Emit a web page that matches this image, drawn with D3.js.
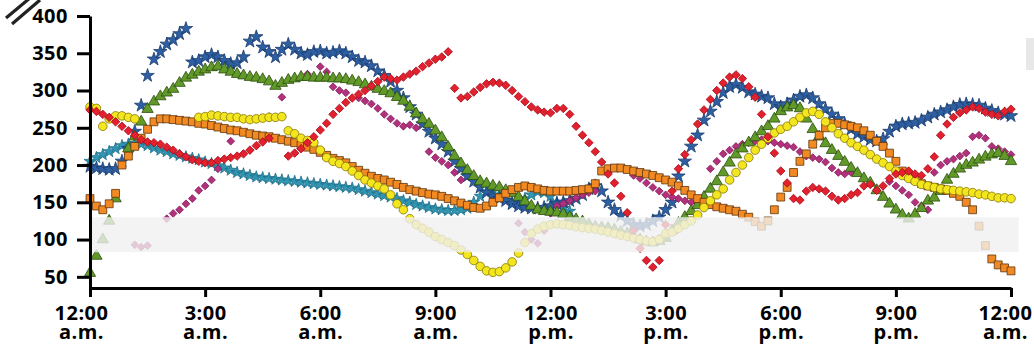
<!DOCTYPE html>
<html>
<head>
<meta charset="utf-8">
<script src="https://cdn.jsdelivr.net/npm/d3@7"></script>
<style>
  body { margin: 0; background: #fff; }
  svg { display: block; }
  .axis text { font-family: "Open Sans", sans-serif; font-weight: 700; font-size: 20px; fill: #000; letter-spacing: 0.5px; }
</style>
</head>
<body>
<svg id="chart" width="1034" height="346"></svg>
<script>
// readings every 10 minutes from 12:00 a.m. (index / 6 = hour of day)
const yTicks = [50, 100, 150, 200, 250, 300, 350, 400];
const xTicks = [0, 3, 6, 9, 12, 15, 18, 21, 24];
const xTickLabels = [["12:00", "a.m."], ["3:00", "a.m."], ["6:00", "a.m."], ["9:00", "a.m."],
  ["12:00", "p.m."], ["3:00", "p.m."], ["6:00", "p.m."], ["9:00", "p.m."], ["12:00", "a.m."]];
const targetRange = [83, 130];

const blue = [198,196,195,194,195,205,222,245,280,320,342,352,362,368,376,383,
  338,340,345,348,345,340,336,337,345,366,372,358,352,345,355,362,355,350,348,352,353,350,351,353,
  350,345,340,338,333,326,320,312,300,290,278,268,255,245,236,228,218,205,195,185,
  178,170,163,158,155,152,148,145,143,142,142,143,145,148,150,152,155,160,168,172,
  165,150,140,132,125,120,118,120,125,130,140,150,185,205,225,240,260,272,285,297,
  305,308,304,298,295,292,290,282,278,282,287,292,294,290,282,275,268,262,255,248,
  242,238,234,232,235,245,252,255,256,257,260,264,268,271,274,278,281,282,281,280,
  276,273,270,268,266];

const red = [274,272,268,264,258,252,246,240,234,231,230,228,224,220,215,211,207,205,203,203,
  206,208,210,212,215,220,226,231,236,null,null,212,216,222,230,238,247,256,268,276,
  284,290,295,300,306,312,318,316,314,318,322,326,332,337,342,345,352,303,290,292,
  298,304,309,311,310,307,300,292,285,278,274,271,270,276,276,268,252,240,230,218,
  204,188,176,158,136,112,88,72,63,72,120,165,195,214,234,255,274,288,300,310,
  318,321,316,305,291,268,238,216,192,176,155,153,165,170,168,165,158,153,155,160,
  163,172,174,166,172,182,188,190,192,188,186,195,211,240,255,264,270,274,278,276,
  271,268,266,272,275];

const green = [55,78,100,125,155,null,222,238,258,275,285,292,297,302,310,317,321,325,328,331,
  332,328,325,322,320,318,317,315,312,306,310,314,316,318,318,317,317,317,316,316,
  315,313,311,308,305,302,299,296,291,286,278,269,261,255,246,237,224,212,202,193,
  185,178,175,172,170,166,162,157,151,145,140,138,137,136,134,130,127,124,120,117,
  116,115,113,110,108,104,100,97,96,98,102,112,122,130,138,146,157,168,178,190,
  203,214,222,230,237,245,252,262,272,277,280,276,262,248,238,229,220,212,204,196,
  189,182,176,166,157,148,140,133,128,134,142,152,156,165,180,188,195,200,203,207,
  211,214,216,212,205];

const magenta = [null,null,null,null,null,null,null,93,90,92,null,null,128,135,140,148,155,166,172,180,
  195,null,232,null,null,null,null,null,265,null,291,null,null,null,322,null,332,325,305,300,
  297,null,290,286,282,276,268,262,256,252,254,250,null,218,210,205,200,190,180,null,
  null,null,null,null,null,null,null,122,110,100,95,112,135,145,148,152,156,160,163,165,
  null,null,null,null,null,186,182,176,170,165,160,157,155,152,150,148,null,195,205,215,
  220,225,228,230,232,234,232,230,228,226,224,218,212,210,208,204,196,190,188,190,
  null,null,null,null,null,178,172,166,160,150,145,140,190,200,205,208,212,216,238,240,
  236,225,222,218,214];

const orange = [155,145,140,148,162,200,212,225,236,248,258,262,262,261,260,259,258,256,255,253,
  251,249,247,246,244,242,240,239,238,236,234,232,230,227,224,221,217,213,209,206,
  203,198,193,189,185,182,180,177,174,170,167,165,163,161,160,158,155,152,149,146,
  143,142,145,150,156,162,167,170,172,170,168,166,165,165,165,165,166,167,168,175,
  192,195,196,196,194,192,190,188,186,183,180,177,172,166,160,155,150,147,144,142,
  140,138,134,130,124,118,125,140,157,170,190,205,215,228,240,250,256,256,254,252,
  250,246,240,232,225,216,205,192,185,180,175,172,170,168,166,162,158,150,140,118,
  92,74,66,62,58];

const yellow = [278,276,252,262,266,266,264,262,null,null,null,null,null,null,null,null,null,264,265,267,
  266,265,264,264,262,261,262,263,264,264,265,246,242,236,233,230,220,210,205,202,
  198,192,186,180,176,172,168,160,148,140,128,120,115,110,104,100,96,92,86,80,
  72,64,58,56,57,62,70,82,96,108,114,118,120,121,120,119,117,116,115,114,
  112,110,108,106,104,102,100,98,97,100,108,110,115,120,125,133,143,152,160,168,
  180,190,200,210,220,228,236,243,248,252,258,264,270,272,268,258,250,242,236,230,
  225,220,214,208,203,198,192,186,182,178,174,172,170,168,167,166,165,164,163,161,
  160,158,156,156,155];

const teal = [205,210,214,218,222,226,228,229,228,226,223,220,218,215,213,211,209,207,204,202,
  199,196,193,190,188,186,184,183,182,181,180,179,178,177,176,175,174,173,172,171,
  170,169,167,165,163,161,159,157,155,152,150,147,145,143,141,140,139,139,140,142,
  150,158,164,165,160,153,148,150,155,160,164,163,158,150,142,138];

const svg = d3.select("#chart");

const x = d3.scaleLinear().domain([0, 24]).range([90, 1011]);
const y = d3.scaleLinear().domain([35, 400]).range([288, 16]);

// draw order matters: later series sit on top
const series = [
  { data: teal,    type: d3.symbolStar,     size: 44, fill: "#2f97b3", stroke: "#1f6f88", rot: 0 },
  { data: blue,    type: d3.symbolStar,     size: 56, fill: "#2d5fa2", stroke: "#1b3c6e", rot: 0 },
  { data: magenta, type: d3.symbolSquare,   size: 30, fill: "#b3307d", stroke: "#86205c", rot: 45 },
  { data: green,   type: d3.symbolTriangle, size: 56, fill: "#629a2a", stroke: "#2b4c0d", rot: 0 },
  { data: orange,  type: d3.symbolSquare,   size: 62, fill: "#f28a24", stroke: "#5e330a", rot: 0 },
  { data: yellow,  type: d3.symbolCircle,   size: 58, fill: "#f4e61e", stroke: "#847608", rot: 0 },
  { data: red,     type: d3.symbolSquare,   size: 36, fill: "#e3202e", stroke: "#a80e1c", rot: 45 }
];

const marks = svg.append("g");
series.forEach(s => {
  const pts = s.data.map((v, i) => ({ h: i / 6, v: v })).filter(d => d.v != null);
  marks.append("g").selectAll("path")
    .data(pts)
    .enter()
    .append("path")
    .attr("d", d3.symbol().type(s.type).size(s.size))
    .attr("transform", d => "translate(" + x(d.h) + "," + y(d.v) + ") rotate(" + s.rot + ")")
    .attr("fill", s.fill)
    .attr("stroke", s.stroke)
    .attr("stroke-width", 0.8);
});

// pale band over the target range, washing out the marks beneath it
svg.append("rect")
  .attr("x", x(0) + 1)
  .attr("y", y(targetRange[1]))
  .attr("width", x(24.2) - x(0) - 1)
  .attr("height", y(targetRange[0]) - y(targetRange[1]))
  .attr("fill", "#f0f0f0")
  .attr("opacity", 0.8);

// axes
svg.append("g").attr("class", "axis")
  .attr("transform", "translate(90,0)")
  .call(d3.axisLeft(y).tickValues(yTicks).tickSize(13).tickPadding(9).tickSizeOuter(0));

const xAxis = svg.append("g").attr("class", "axis")
  .attr("transform", "translate(0,288)")
  .call(d3.axisBottom(x).tickValues(xTicks).tickSize(9).tickSizeOuter(0).tickFormat(""));

svg.selectAll(".axis path, .axis line").attr("stroke", "#000").attr("stroke-width", 3);

// two-line time labels, as separate texts
xAxis.selectAll(".tick text").remove();
xAxis.selectAll(".tick").each(function (d, i) {
  const shift = i === 0 ? -9 : (i === xTicks.length - 1 ? -6 : 0);
  const tick = d3.select(this);
  tick.append("text").attr("x", shift).attr("y", 32)
    .attr("text-anchor", "middle").text(xTickLabels[i][0]);
  tick.append("text").attr("x", shift).attr("y", 51)
    .attr("text-anchor", "middle").text(xTickLabels[i][1]);
});

// axis-break mark in the corner
const brk = svg.append("g").attr("stroke", "#222").attr("stroke-width", 3.2);
brk.append("line").attr("x1", 6).attr("y1", 18).attr("x2", 30).attr("y2", -2);
brk.append("line").attr("x1", 12).attr("y1", 24).attr("x2", 40).attr("y2", 0);

// faint smudge on the right edge
svg.append("rect").attr("x", 1026).attr("y", 38).attr("width", 8).attr("height", 32)
  .attr("fill", "#d8d8d8").attr("opacity", 0.6);
</script>
</body>
</html>
